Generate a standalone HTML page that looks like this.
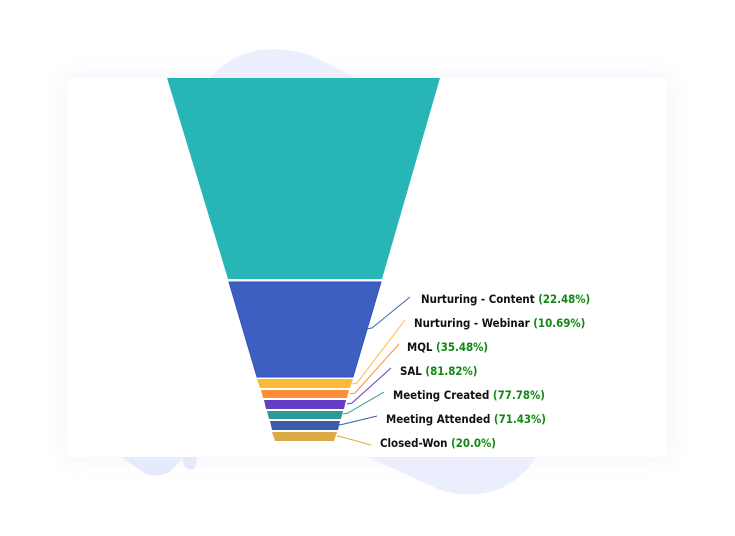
<!DOCTYPE html>
<html><head><style>
html,body{margin:0;padding:0;background:#fff;width:735px;height:536px;overflow:hidden}
svg{position:absolute;left:0;top:0}
text{font-family:"DejaVu Sans Condensed","Liberation Sans",sans-serif;font-weight:bold;font-size:11.4px;fill:#111}
.g{fill:#118811}
</style></head><body>
<svg width="735" height="536" viewBox="0 0 735 536">
<defs>
<filter id="sh" x="-20%" y="-20%" width="140%" height="140%"><feGaussianBlur stdDeviation="10"/></filter>
</defs>
<path d="M205,85 Q240,35 310,55 L420,110 L540,200 Q600,260 560,400 Q530,515 440,490 L330,440 Q250,400 210,300 Q180,180 205,85 Z" fill="#ebeefd"/>
<path d="M118,455 L200,440 L170,472 Q150,480 140,470 Z" fill="#e4e9fc"/>
<path d="M182,455 L198,455 L195,468 Q190,472 184,466 Z" fill="#e2e7fb"/>
<rect x="64" y="74" width="607" height="387" fill="#eef0fd" filter="url(#sh)" opacity="0.6"/>
<rect x="68" y="78" width="599" height="379" fill="#fff"/>
<polygon points="167,78 440,78 382,279 228,279" fill="#28b5b6"/>
<polygon points="229,282 381,282 353,377 257,377" fill="#3d5fc1" stroke="#3252b8" stroke-width="1"/>
<polygon points="257,379 353,379 350,388 260,388" fill="#fcbb37"/>
<polygon points="261,390 349,390 347,398 263,398" fill="#fd8f39"/>
<polygon points="264,400 346,400 344,409 266,409" fill="#633ec4"/>
<polygon points="267,411 343,411 341,419 269,419" fill="#2e9a95"/>
<polygon points="270,421 340,421 338,430 272,430" fill="#3e5ba9"/>
<polygon points="272,432 337,432 334,441 275,441" fill="#dcaa45"/>
<g fill="none" stroke-width="1">
<path d="M366,329 L372,328 L410,297" stroke="#3d5fc1"/>
<path d="M352,384 L357,383 L405,320" stroke="#fcbb37"/>
<path d="M350,394 L355,393 L399,344" stroke="#fd8f39"/>
<path d="M347,404 L352,403 L391,368" stroke="#633ec4"/>
<path d="M343,414 L348,413 L384,392" stroke="#2e9a95"/>
<path d="M339,425 L344,424 L377,416" stroke="#3e5ba9"/>
<path d="M337,436 L342,437 L371,445" stroke="#dcaa45"/>
</g>
<text x="421" y="303">Nurturing - Content <tspan class="g">(22.48%)</tspan></text>
<text x="414" y="327">Nurturing - Webinar <tspan class="g">(10.69%)</tspan></text>
<text x="407" y="351">MQL <tspan class="g">(35.48%)</tspan></text>
<text x="400" y="375">SAL <tspan class="g">(81.82%)</tspan></text>
<text x="393" y="399">Meeting Created <tspan class="g">(77.78%)</tspan></text>
<text x="386" y="423">Meeting Attended <tspan class="g">(71.43%)</tspan></text>
<text x="380" y="447">Closed-Won <tspan class="g">(20.0%)</tspan></text>
</svg>
</body></html>
